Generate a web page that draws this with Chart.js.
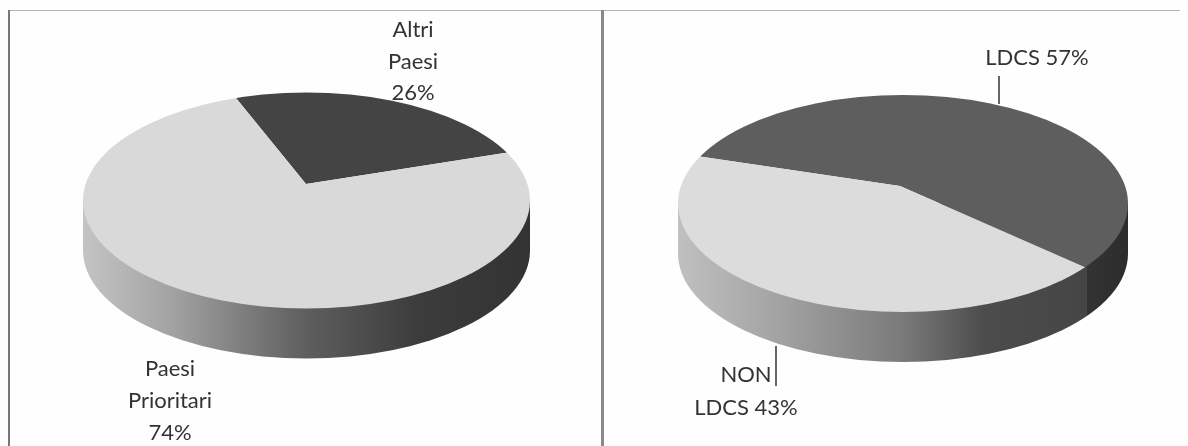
<!DOCTYPE html>
<html>
<head>
<meta charset="utf-8">
<script src="https://cdn.jsdelivr.net/npm/chart.js@4/dist/chart.umd.js"></script>
<style>
  html, body { margin: 0; padding: 0; background: #fefefe; overflow: hidden; }
  #page { position: relative; width: 1188px; height: 446px; }
  canvas { position: absolute; top: 0; }
  .rule { position: absolute; }
</style>
</head>
<body>
<div id="page">
  <canvas id="priority" width="594" height="446" style="left:0"></canvas>
  <canvas id="ldcs" width="594" height="446" style="left:594px"></canvas>
  <div class="rule" style="left:8px;top:10px;width:1172px;height:1px;background:#b4b4b4"></div>
  <div class="rule" style="left:8px;top:10px;width:2px;height:436px;background:#777"></div>
  <div class="rule" style="left:601px;top:10px;width:3px;height:436px;background:#8a8a8a"></div>
</div>

<script>
const priorityCategories = ['Altri Paesi', 'Paesi Prioritari'];
const priorityValues = [26, 74];
const priorityColors = ['#444444', '#d9d9d9'];

const ldcsCategories = ['LDCS', 'NON LDCS'];
const ldcsValues = [57, 43];
const ldcsColors = ['#5e5e5e', '#dcdcdc'];

// the pie is squashed and the apex sits above the ellipse centre, like the 3D original
const SQUASH = 0.484;
const DEPTH = 50;

const pie3d = {
  id: 'pie3d',
  beforeDatasetsDraw(chart, args, opts) {
    const ctx = chart.ctx;
    const { cx, cy, rx, ry, stops } = opts;

    // side wall
    const wall = ctx.createLinearGradient(cx - rx, 0, cx + rx, 0);
    stops.forEach(s => wall.addColorStop(s[0], s[1]));
    ctx.save();
    ctx.beginPath();
    ctx.moveTo(cx - rx, cy);
    ctx.lineTo(cx - rx, cy + DEPTH);
    ctx.ellipse(cx, cy + DEPTH, rx, ry, 0, Math.PI, 0, true);
    ctx.lineTo(cx + rx, cy);
    ctx.closePath();
    ctx.fillStyle = wall;
    ctx.fill();
    ctx.restore();

    // top face: slices come from the library, cut by the ellipse
    const arc = chart.getDatasetMeta(0).data[0];
    ctx.save();
    ctx.beginPath();
    ctx.ellipse(cx, cy, rx, ry, 0, 0, Math.PI * 2);
    ctx.clip();
    ctx.translate(arc.x, arc.y);
    ctx.scale(1, SQUASH);
    ctx.translate(-arc.x, -arc.y);
  },
  afterDatasetsDraw(chart) {
    chart.ctx.restore();
  },
  afterDraw(chart, args, opts) {
    const ctx = chart.ctx;
    ctx.save();
    ctx.fillStyle = '#333';
    ctx.strokeStyle = '#333';
    ctx.font = '22px Lato, "Open Sans", sans-serif';
    ctx.textAlign = 'center';
    ctx.textBaseline = 'middle';
    opts.labels.forEach(l => {
      l.lines.forEach((t, i) => ctx.fillText(t, l.x, l.y + i * l.gap));
    });
    opts.leaders.forEach(l => {
      ctx.beginPath();
      ctx.moveTo(l[0], l[1]);
      ctx.lineTo(l[0], l[2]);
      ctx.lineWidth = 1.5;
      ctx.stroke();
    });
    ctx.restore();
  }
};

function makePie(id, categories, values, colors, rotation, bottomPad, view) {
  new Chart(document.getElementById(id), {
    type: 'pie',
    data: {
      labels: categories,
      datasets: [{
        data: values,
        backgroundColor: colors,
        borderWidth: 0,
        radius: 280,
        clip: false
      }]
    },
    options: {
      responsive: false,
      animation: false,
      rotation: rotation,
      layout: { padding: { left: 18, right: 0, top: 0, bottom: bottomPad } },
      plugins: {
        legend: { display: false },
        tooltip: { enabled: false },
        pie3d: view
      }
    },
    plugins: [pie3d]
  });
}

makePie('priority', priorityCategories, priorityValues, priorityColors, -21.5, 78, {
  cx: 306.5, cy: 200.5, rx: 223.5, ry: 108,
  stops: [[0, '#c4c4c4'], [0.2, '#a2a2a2'], [0.5, '#5e5e5e'], [0.75, '#3c3c3c'], [1, '#333333']],
  labels: [
    { lines: ['Altri', 'Paesi', '26%'], x: 413, y: 30, gap: 31.5 },
    { lines: ['Paesi', 'Prioritari', '74%'], x: 170, y: 369, gap: 32 }
  ],
  leaders: []
});

makePie('ldcs', ldcsCategories, ldcsValues, ldcsColors, -73, 74, {
  cx: 309, cy: 203.5, rx: 225, ry: 108.5,
  stops: [[0, '#c0c0c0'], [0.2, '#a6a6a6'], [0.5, '#7a7a7a'], [0.68, '#4c4c4c'], [0.91, '#454545'], [0.91, '#333333'], [1, '#2c2c2c']],
  labels: [
    { lines: ['LDCS 57%'], x: 443, y: 58, gap: 0 },
    { lines: ['NON', 'LDCS 43%'], x: 152, y: 375, gap: 33 }
  ],
  leaders: [[405, 76, 104], [182, 346, 386]]
});
</script>
</body>
</html>
